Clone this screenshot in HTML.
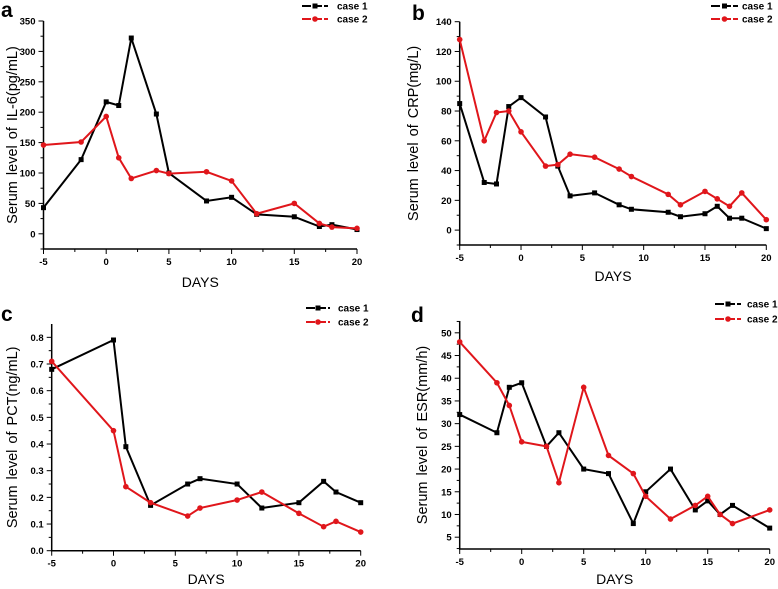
<!DOCTYPE html>
<html><head><meta charset="utf-8"><style>
html,body{margin:0;padding:0;background:#fff;}
svg{display:block;font-family:"Liberation Sans",Arial,sans-serif;}
</style></head><body>
<svg id="fig" width="778" height="589" viewBox="0 0 778 589" xmlns="http://www.w3.org/2000/svg"></svg>
<script>
const aDays1=[-5,-2,0,1,2,4,5,8,10,12,15,17,18,20];
const aCase1=[43,122,217,211,322,197,100,54,60,32,28,12,15,7];
const aDays2=[-5,-2,0,1,2,4,5,8,10,12,15,17,18,20];
const aCase2=[146,151,193,125,91,104,99,102,87,33,50,17,11,9];
const aTicks=[0,50,100,150,200,250,300,350];
const bDays=[-5,-3,-2,-1,0,2,3,4,6,8,9,12,13,15,16,17,18,20];
const bCase1=[85,32,31,83,89,76,43,23,25,17,14,12,9,11,16,8,8,1];
const bCase2=[128,60,79,80,66,43,44,51,49,41,36,24,17,26,21,16,25,7];
const bTicks=[0,20,40,60,80,100,120,140];
const cDays=[-5,0,1,3,6,7,10,12,15,17,18,20];
const cCase1=[0.68,0.79,0.39,0.17,0.25,0.27,0.25,0.16,0.18,0.26,0.22,0.18];
const cCase2=[0.71,0.45,0.24,0.18,0.13,0.16,0.19,0.22,0.14,0.09,0.11,0.07];
const cTicks=[0,0.1,0.2,0.3,0.4,0.5,0.6,0.7,0.8];
const dDays=[-5,-2,-1,0,2,3,5,7,9,10,12,14,15,16,17,20];
const dCase1=[32,28,38,39,25,28,20,19,8,15,20,11,13,10,12,7];
const dCase2=[48,39,34,26,25,17,38,23,19,14,9,12,14,10,8,11];
const dTicks=[5,10,15,20,25,30,35,40,45,50];
const xTicks=[-5,0,5,10,15,20];

const NS="http://www.w3.org/2000/svg";
const svg=document.getElementById('fig');
function el(tag,attrs,parent,txt){const e=document.createElementNS(NS,tag);for(const k in attrs)e.setAttribute(k,attrs[k]);if(txt!==undefined)e.textContent=txt;(parent||svg).appendChild(e);return e;}

function panel(p){
  const g=el('g',{});
  
  
  const X=v=>p.x0+(v-(-5))/25*(p.x1-p.x0);
  const Y=v=>p.yb+(v-p.ymin)/(p.ymax-p.ymin)*(p.yt-p.yb);
  const ax=el('path',{d:`M${p.x0},${p.yt}V${p.yb}H${p.x1}`,stroke:'#000','stroke-width':1.5,fill:'none'},g);
  
  
  for(let v=-5;v<=20;v+=2.5){const major=(v%5===0);el('line',{x1:X(v),x2:X(v),y1:p.yb,y2:p.yb+(major?5:3),stroke:'#000','stroke-width':1},g);}
  xTicks.forEach(v=>{const t=el('text',{x:X(v),y:p.yb+16,'text-anchor':'middle','font-size':9.5,'font-weight':'bold'},g,String(v));
    
    });
  const step=p.ticks[1]-p.ticks[0];
  p.ticks.forEach((v,i)=>{el('line',{x1:p.x0-5,x2:p.x0,y1:Y(v),y2:Y(v),stroke:'#000','stroke-width':1},g);
    const mv=v+step/2; if(Y(mv)>=p.yt) el('line',{x1:p.x0-3,x2:p.x0,y1:Y(mv),y2:Y(mv),stroke:'#000','stroke-width':1},g);
    const mv2=v-step/2; if(i===0&&Y(mv2)<=p.yb) el('line',{x1:p.x0-3,x2:p.x0,y1:Y(mv2),y2:Y(mv2),stroke:'#000','stroke-width':1},g);
    const t=el('text',{x:p.x0-8,y:Y(v)+3.5,'text-anchor':'end','font-size':9.5,'font-weight':'bold'},g,p.fmt(v));
    
    });
  [[p.d1,p.s1,'#000','sq','case-1-line'],[p.d2,p.s2,'#e0161b','ci','case-2-line']].forEach(([ds,vs,col,m,nm])=>{
    const pts=ds.map((d,i)=>X(d)+','+Y(vs[i])).join(' ');
    const l=el('polyline',{points:pts,fill:'none',stroke:col,'stroke-width':2},g);
    
    
    ds.forEach((d,i)=>{
      const mk= m==='sq'?el('rect',{x:X(d)-2.5,y:Y(vs[i])-2.5,width:5,height:5,fill:col},g):el('circle',{cx:X(d),cy:Y(vs[i]),r:2.8,fill:col},g);
      
      
    });
  });
  const lt=el('text',{x:p.letX,y:p.letY,'font-size':21,'font-weight':'bold'},g,p.letter);
  
  
  const xl=el('text',{x:(p.x0+p.x1)/2,y:p.xlabY,'text-anchor':'middle','font-size':14},g,'DAYS');
  
  
  const yc=(p.yt+p.yb)/2;
  const yl=el('text',{x:p.ylabX,y:yc,'text-anchor':'middle','font-size':14.5,'word-spacing':2,transform:`rotate(-90 ${p.ylabX} ${yc})`},g,p.ylab);
  
  
  [[p.ly1,'#000','sq','case 1'],[p.ly2,'#e0161b','ci','case 2']].forEach(([ly,col,m,txt])=>{
    const lg=el('g',{},g);
    
    
    el('line',{x1:p.lx0,x2:p.lx1,y1:ly,y2:ly,stroke:col,'stroke-width':2,'stroke-dasharray':'9,2'},lg);
    const mx=(p.lx0+p.lx1)/2;
    if(m==='sq')el('rect',{x:mx-2.5,y:ly-2.5,width:5,height:5,fill:col},lg);else el('circle',{cx:mx,cy:ly,r:2.8,fill:col},lg);
    el('text',{x:p.ltx,y:ly+3.5,'font-size':10,'font-weight':'bold'},lg,txt);
  });
}
panel({letter:'a',x0:43.5,x1:357,yt:21,yb:249,ymin:-25,ymax:350,ticks:aTicks,fmt:v=>String(v),
  d1:aDays1,s1:aCase1,d2:aDays2,s2:aCase2,letX:1,letY:17,xlabY:287,ylabX:17,ylab:'Serum level of  IL-6(pg/mL)',
  lx0:302,lx1:328,ltx:337,ly1:6,ly2:19});
panel({letter:'b',x0:459.7,x1:766.3,yt:21.7,yb:245,ymin:-10,ymax:140,ticks:bTicks,fmt:v=>String(v),
  d1:bDays,s1:bCase1,d2:bDays,s2:bCase2,letX:412,letY:20,xlabY:281,ylabX:418,ylab:'Serum level of  CRP(mg/L)',
  lx0:711,lx1:738,ltx:742,ly1:6,ly2:19});
panel({letter:'c',x0:51.7,x1:360.7,yt:324,yb:550.7,ymin:0,ymax:0.85,ticks:cTicks,fmt:v=>v.toFixed(1),
  d1:cDays,s1:cCase1,d2:cDays,s2:cCase2,letX:1,letY:321,xlabY:584,ylabX:17,ylab:'Serum level of  PCT(ng/mL)',
  lx0:306,lx1:330,ltx:338,ly1:308,ly2:322});
panel({letter:'d',x0:459.7,x1:769.7,yt:321,yb:549,ymin:2.4,ymax:52.6,ticks:dTicks,fmt:v=>String(v),
  d1:dDays,s1:dCase1,d2:dDays,s2:dCase2,letX:411,letY:322,xlabY:584,ylabX:427,ylab:'Serum level of  ESR(mm/h)',
  lx0:715,lx1:741,ltx:747,ly1:304,ly2:319});
</script>
</body></html>
